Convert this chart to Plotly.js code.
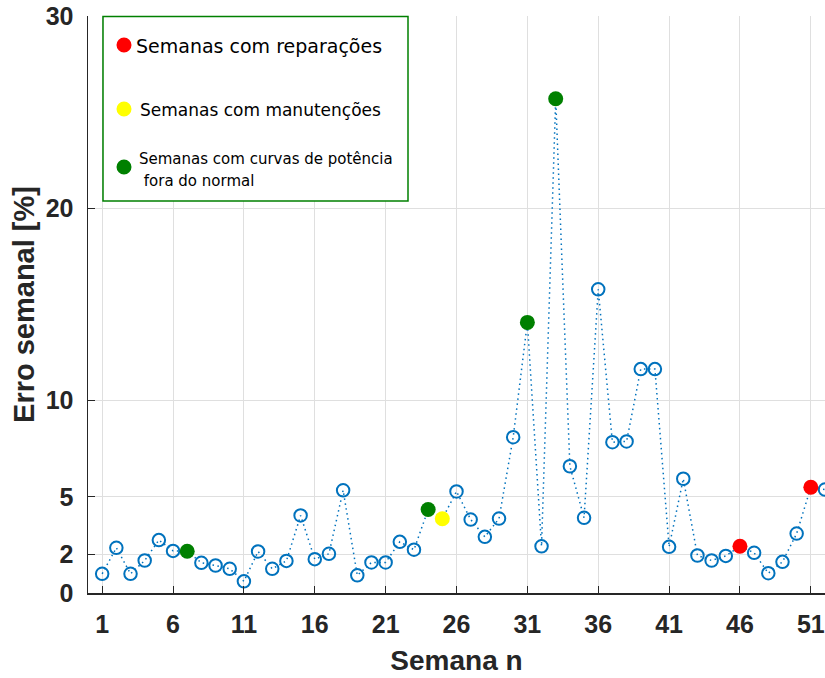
<!DOCTYPE html>
<html>
<head>
<meta charset="utf-8">
<script src="https://cdn.plot.ly/plotly-3.0.1.min.js"></script>
<style>html,body{margin:0;padding:0;background:#fff;}#chart{width:825px;height:678px;}</style>
</head>
<body>
<div id="chart"></div>
<script>
// Weekly error data (week number and error in %)
const weeks = [1,2,3,4,5,6,7,8,9,10,11,12,13,14,15,16,17,18,19,20,21,22,23,24,25,26,
               27,28,29,30,31,32,33,34,35,36,37,38,39,40,41,42,43,44,45,46,47,48,49,50,51,52];
const erro = [1.00,2.35,1.00,1.69,2.75,2.19,2.17,1.57,1.43,1.26,0.61,2.16,1.26,1.67,4.03,1.76,
              2.04,5.34,0.92,1.59,1.59,2.66,2.25,4.34,3.86,5.28,3.82,2.92,3.87,8.10,14.07,2.43,
              25.70,6.59,3.91,15.79,7.84,7.88,11.64,11.64,2.40,5.94,1.95,1.69,1.93,2.43,2.09,1.03,
              1.62,3.09,5.50,5.38];
const repairWeeks = [46,51];
const maintWeeks = [25];
const curveWeeks = [7,24,31,33];
const xTickVals = [1,6,11,16,21,26,31,36,41,46,51];
const yTickVals = [0,2,5,10,20,30];
const legendLabels = ["Semanas com reparações","Semanas com manutenções",
                      "Semanas com curvas de potência"," fora do normal"];

const special = repairWeeks.concat(maintWeeks, curveWeeks);
const regW = weeks.filter(w => special.indexOf(w) < 0);
const valOf = w => erro[weeks.indexOf(w)];

const blue = '#0072BD';
const traces = [
  {x: weeks, y: erro, mode: 'lines', line: {color: blue, width: 1.5, dash: '1.5px,3.5px'},
   hoverinfo: 'skip', showlegend: false},
  {x: regW, y: regW.map(valOf), mode: 'markers',
   marker: {symbol: 'circle-open', size: 12.5, color: blue, line: {width: 2, color: blue}},
   showlegend: false, cliponaxis: false},
  {x: repairWeeks, y: repairWeeks.map(valOf), mode: 'markers', name: legendLabels[0],
   marker: {symbol: 'circle', size: 15, color: '#FF0000'}, showlegend: false},
  {x: maintWeeks, y: maintWeeks.map(valOf), mode: 'markers', name: legendLabels[1],
   marker: {symbol: 'circle', size: 15, color: '#FFFF00'}, showlegend: false},
  {x: curveWeeks, y: curveWeeks.map(valOf), mode: 'markers', name: legendLabels[2],
   marker: {symbol: 'circle', size: 15, color: '#008000'}, showlegend: false}
];

const L = 88, T = 16, W = 737, H = 577;
const px = p => (p - L) / W;
const py = p => (T + H - p) / H;
const axCol = '#262626';
const tickFont = {family: 'Liberation Sans, Arial, sans-serif', size: 25, color: axCol, weight: 'bold'};
const legFont = 'DejaVu Sans, Verdana, sans-serif';

const dot = (cx, cy, col) => ({type: 'circle', xref: 'paper', yref: 'paper',
  xsizemode: 'pixel', ysizemode: 'pixel', xanchor: px(cx), yanchor: py(cy),
  x0: -7.5, x1: 7.5, y0: -7.5, y1: 7.5, fillcolor: col, line: {width: 0}});

const layout = {
  width: 825, height: 678,
  margin: {l: L, r: 0, t: T, b: 678 - T - H},
  paper_bgcolor: '#ffffff', plot_bgcolor: '#ffffff',
  showlegend: false,
  xaxis: {range: [0, 52], tickvals: xTickVals, ticktext: xTickVals.map(String),
    ticks: 'inside', ticklen: 7, tickcolor: axCol, tickwidth: 1,
    showline: true, linecolor: axCol, linewidth: 1.5, mirror: false,
    showgrid: true, gridcolor: '#dfdfdf', gridwidth: 1, zeroline: false,
    tickfont: tickFont, ticklabelstandoff: 8,
    title: {text: 'Semana n', font: {family: 'Liberation Sans, Arial, sans-serif', size: 28, color: axCol, weight: 'bold'}, standoff: 14}},
  yaxis: {range: [0, 30], tickvals: yTickVals, ticktext: yTickVals.map(String),
    ticks: 'inside', ticklen: 7, tickcolor: axCol, tickwidth: 1,
    showline: true, linecolor: axCol, linewidth: 1.5, mirror: false,
    showgrid: true, gridcolor: '#dfdfdf', gridwidth: 1, zeroline: false,
    tickfont: tickFont, ticklabelstandoff: 8,
    title: {text: 'Erro semanal [%]', font: {family: 'Liberation Sans, Arial, sans-serif', size: 29, color: axCol, weight: 'bold'}, standoff: 2}},
  shapes: [
    {type: 'rect', xref: 'paper', yref: 'paper', x0: px(103), x1: px(408), y0: py(201), y1: py(16.5),
     fillcolor: '#ffffff', line: {color: '#008000', width: 1.5}, layer: 'above'},
    dot(124, 45, '#FF0000'),
    dot(124, 109, '#FFFF00'),
    dot(124, 167, '#008000')
  ],
  annotations: [
    {xref: 'paper', yref: 'paper', x: px(134), y: py(46), xanchor: 'left', yanchor: 'middle', showarrow: false,
     text: legendLabels[0], font: {family: legFont, size: 19, color: '#000'}},
    {xref: 'paper', yref: 'paper', x: px(138), y: py(110), xanchor: 'left', yanchor: 'middle', showarrow: false,
     text: legendLabels[1], font: {family: legFont, size: 17, color: '#000'}},
    {xref: 'paper', yref: 'paper', x: px(137), y: py(159), xanchor: 'left', yanchor: 'middle', showarrow: false,
     text: legendLabels[2], font: {family: legFont, size: 15, color: '#000'}},
    {xref: 'paper', yref: 'paper', x: px(137), y: py(181), xanchor: 'left', yanchor: 'middle', showarrow: false,
     text: legendLabels[3], font: {family: legFont, size: 15, color: '#000'}}
  ]
};

Plotly.newPlot('chart', traces, layout, {displayModeBar: false, staticPlot: true});
</script>
</body>
</html>
